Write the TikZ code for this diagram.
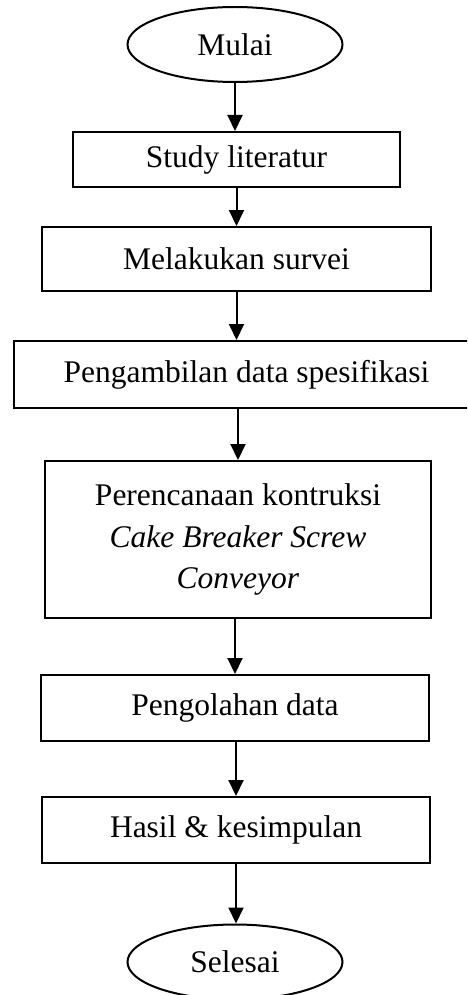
\documentclass[tikz,border=0pt]{standalone}
\usepackage{fontspec}
\setmainfont{Liberation Serif}
\usetikzlibrary{shapes.geometric,arrows.meta}
\tikzset{
  flowline/.style={line width=2pt},
  flowarrow/.style={flowline,-{Triangle[width=15pt,length=16pt]}},
  terminal/.style={flowline,draw,ellipse,inner sep=0pt,minimum width=215pt,minimum height=75pt},
  process/.style={flowline,draw,rectangle,inner sep=0pt,align=center},
}
\begin{document}
\begin{tikzpicture}[x=1pt,y=-1pt,font=\fontsize{31.5}{41.5}\selectfont]
  \useasboundingbox (0,0) rectangle (467,995);
  \clip (0,0) rectangle (467,995);

  % Drawing start and end
  \node [terminal] (mulai) at (235,44.5) {Mulai};
  \node [terminal] (selesai) at (235,962) {Selesai};

  % Drawing process boxes
  \node [process,minimum width=327pt,minimum height=55pt] (study) at (236.5,159.5) {Study literatur};
  \node [process,minimum width=389pt,minimum height=64pt] (survei) at (236.5,259) {Melakukan survei};
  \node [process,minimum width=466pt,minimum height=67pt] (data) at (246.5,374.5) {Pengambilan data spesifikasi};
  \node [process,minimum width=386pt,minimum height=157pt] (kontruksi) at (238,539.5)
    {Perencanaan kontruksi\\\textit{Cake Breaker Screw}\\\textit{Conveyor}};
  \node [process,minimum width=388pt,minimum height=66pt] (olah) at (235,708) {Pengolahan data};
  \node [process,minimum width=388pt,minimum height=66pt] (hasil) at (236,830) {Hasil \& kesimpulan};

  % Drawing arrows
  \draw [flowarrow] (mulai.south) -- (mulai.south |- study.north);
  \draw [flowarrow] (study.south) -- (study.south |- survei.north);
  \draw [flowarrow] (survei.south) -- (survei.south |- data.north);
  \draw [flowarrow] (kontruksi.north |- data.south) -- (kontruksi.north);
  \draw [flowarrow] (olah.north |- kontruksi.south) -- (olah.north);
  \draw [flowarrow] (hasil.north |- olah.south) -- (hasil.north);
  \draw [flowarrow] (hasil.south) -- (hasil.south |- selesai.north);
\end{tikzpicture}
\end{document}
